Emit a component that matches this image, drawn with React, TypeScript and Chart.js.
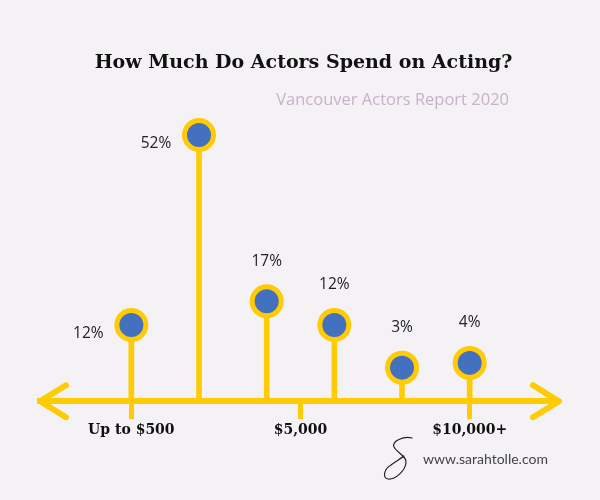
import { useEffect, useRef } from "react";
import { Chart, registerables } from "chart.js";

Chart.register(...registerables);

// ---- data ----
const positions = [0, 1, 2, 3, 4, 5];
const values = [12, 52, 17, 12, 3, 4];
const tickValues = [0, 2.5, 5];
const tickLabels = ["Up to $500", "$5,000", "$10,000+"];
const titleText = "How Much Do Actors Spend on Acting?";
const subtitleText = "Vancouver Actors Report 2020";
const footerText = "www.sarahtolle.com";

const Y_MIN = -4.07;
const Y_MAX = 60;

const YELLOW = "#FFCB05";
const BLUE = "#4470C0";
const BG = "#F4F2F5";

const decor = {
  id: "decor",
  beforeDraw(chart: any) {
    const { ctx, width, height } = chart;
    ctx.save();
    ctx.fillStyle = BG;
    ctx.fillRect(0, 0, width, height);
    ctx.restore();
  },
  afterDatasetsDraw(chart: any) {
    const { ctx } = chart;
    const meta = chart.getDatasetMeta(0);
    ctx.save();
    ctx.font = "15.5px 'Open Sans'";
    ctx.fillStyle = "#222";
    ctx.textAlign = "center";
    ctx.textBaseline = "middle";
    meta.data.forEach((pt: any, i: number) => {
      const label = values[i] + "%";
      if (i < 2) {
        ctx.fillText(label, pt.x - 43, pt.y + 9);
      } else {
        ctx.fillText(label, pt.x, pt.y - 40);
      }
    });
    ctx.restore();
  },
  afterDraw(chart: any) {
    const { ctx, chartArea } = chart;
    const y = chart.scales.x.top;
    ctx.save();
    // arrow heads
    ctx.strokeStyle = YELLOW;
    ctx.lineWidth = 6;
    ctx.lineCap = "round";
    ctx.lineJoin = "round";
    ctx.beginPath();
    ctx.moveTo(chartArea.left + 26, y - 16);
    ctx.lineTo(chartArea.left, y);
    ctx.lineTo(chartArea.left + 26, y + 16);
    ctx.moveTo(chartArea.right - 26, y - 16);
    ctx.lineTo(chartArea.right, y);
    ctx.lineTo(chartArea.right - 26, y + 16);
    ctx.stroke();

    // title
    ctx.fillStyle = "#111";
    ctx.textAlign = "center";
    ctx.textBaseline = "middle";
    ctx.font = "bold 19px 'DejaVu Serif'";
    ctx.fillText(titleText, 303.5, 63);

    // subtitle
    ctx.fillStyle = "#C8B2C9";
    ctx.textAlign = "right";
    ctx.font = "16.5px 'Open Sans'";
    ctx.fillText(subtitleText, 509, 100);

    // footer
    ctx.fillStyle = "#444";
    ctx.textAlign = "left";
    ctx.font = "14px Lato";
    ctx.fillText(footerText, 423, 459);

    // signature scribble
    ctx.strokeStyle = "#222";
    ctx.lineWidth = 1.2;
    ctx.lineCap = "round";
    ctx.beginPath();
    ctx.moveTo(412, 438);
    ctx.bezierCurveTo(404, 436, 391, 441, 394, 447);
    ctx.bezierCurveTo(397, 453, 407, 456, 406, 463);
    ctx.bezierCurveTo(405, 471, 395, 480, 388, 479);
    ctx.bezierCurveTo(382, 478, 384, 469, 391, 465);
    ctx.bezierCurveTo(395, 462, 400, 459, 404, 456);
    ctx.stroke();
    ctx.restore();
  },
};

export default function App() {
  const ref = useRef<HTMLCanvasElement>(null);
  useEffect(() => {
    document.body.style.margin = "0";
    document.body.style.background = BG;
    const pts = positions.map((x, i) => ({ x, y: values[i] }));
    const chart = new Chart(ref.current!, {
      type: "bar",
      data: {
        datasets: [
          {
            type: "line",
            data: pts,
            showLine: false,
            pointRadius: 14.5,
            pointHoverRadius: 14.5,
            pointBackgroundColor: BLUE,
            pointBorderColor: YELLOW,
            pointBorderWidth: 5,
            pointHoverBorderWidth: 5,
            order: 0,
            clip: false,
          } as any,
          {
            type: "bar",
            data: pts,
            base: Y_MIN,
            backgroundColor: YELLOW,
            barThickness: 5,
            order: 1,
          } as any,
        ],
      },
      options: {
        responsive: false,
        animation: false,
        events: [],
        layout: { padding: { left: 40, right: 41, top: 97, bottom: 58 } },
        plugins: {
          legend: { display: false },
          tooltip: { enabled: false },
          title: { display: false },
        },
        scales: {
          x: {
            type: "linear",
            min: -1.35,
            max: 6.32,
            offset: false,
            afterBuildTicks: (axis: any) => {
              axis.ticks = tickValues.map((v) => ({ value: v }));
            },
            ticks: {
              callback: (_v: any, i: number) => tickLabels[i],
              font: { family: "'DejaVu Serif'", size: 14, weight: "bold" },
              color: "#111",
              padding: 3,
              maxRotation: 0,
              autoSkip: false,
            },
            grid: {
              offset: false,
              drawOnChartArea: false,
              tickLength: 18,
              tickWidth: 5,
              tickColor: YELLOW,
            },
            border: { color: YELLOW, width: 6 },
          },
          y: { display: false, min: Y_MIN, max: Y_MAX },
        },
      } as any,
      plugins: [decor],
    });
    return () => chart.destroy();
  }, []);
  return <canvas ref={ref} width={600} height={500} />;
}
